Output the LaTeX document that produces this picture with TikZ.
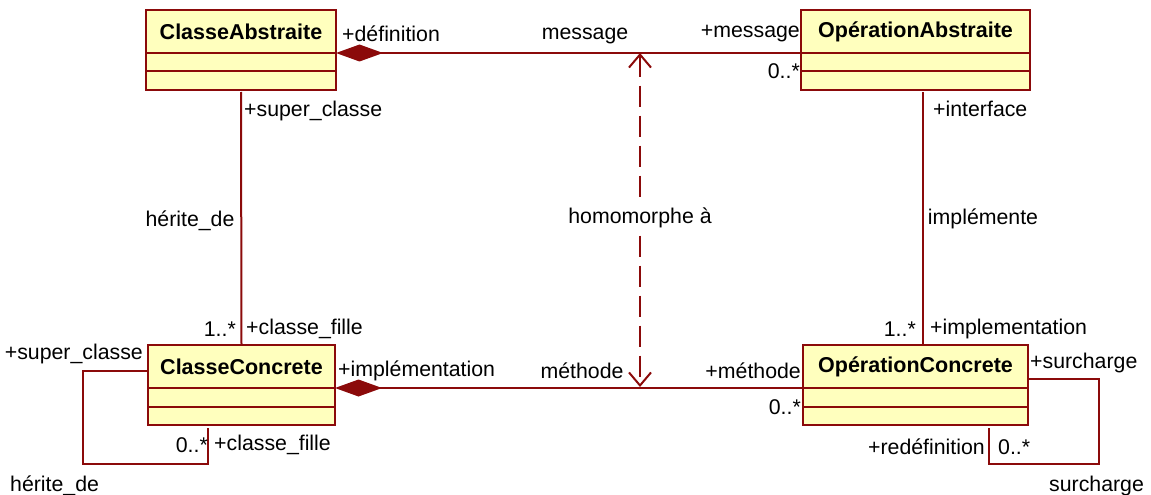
\documentclass[tikz,border=0pt]{standalone}
\usepackage{fontspec}
\setmainfont{Liberation Sans}
\usetikzlibrary{arrows.meta,positioning}
\definecolor{UMLRed}{HTML}{8B0A0A}
\definecolor{UMLFill}{HTML}{FFFFBE}

\begin{document}
\begin{tikzpicture}[x=1pt,y=-1pt,line cap=butt,line join=miter,
    classhead/.style={draw=UMLRed,fill=UMLFill,line width=2pt,minimum height=43pt,
      inner sep=0pt,outer sep=0pt,font=\fontsize{21.5pt}{24pt}\selectfont\bfseries},
    classcomp/.style={draw=UMLRed,fill=UMLFill,line width=2pt,minimum height=18.5pt,
      inner sep=0pt,outer sep=0pt},
    lbl/.style={inner sep=0pt,font=\fontsize{21.3pt}{24pt}\selectfont},
    assoc/.style={UMLRed,line width=2pt}]
  \useasboundingbox (0,0) rectangle (1151,495);
  \node[classhead,minimum width=190pt] (ca) at (241,31.5) {ClasseAbstraite};
  \node[classcomp,minimum width=190pt,below=0pt of ca] (ca1) {};
  \node[classcomp,minimum width=190pt,below=0pt of ca1] (ca2) {};
  \node[classhead,minimum width=229pt] (oa) at (915.5,31.5) {OpérationAbstraite};
  \node[classcomp,minimum width=229pt,below=0pt of oa] (oa1) {};
  \node[classcomp,minimum width=229pt,below=0pt of oa1] (oa2) {};
  \node[classhead,minimum width=187pt] (cc) at (241.5,366.5) {ClasseConcrete};
  \node[classcomp,minimum width=187pt,below=0pt of cc] (cc1) {};
  \node[classcomp,minimum width=187pt,below=0pt of cc1] (cc2) {};
  \node[classhead,minimum width=225pt] (oc) at (915.5,366.5) {OpérationConcrete};
  \node[classcomp,minimum width=225pt,below=0pt of oc] (oc1) {};
  \node[classcomp,minimum width=225pt,below=0pt of oc1] (oc2) {};
  \draw[assoc,{Diamond[length=47pt,width=17pt]}-] (ca.south east) -- (oa.south west);
  \draw[assoc,{Diamond[length=47pt,width=17pt]}-] (cc.south east) -- (oc.south west);
  \draw[assoc] ([yshift=-2pt]ca2.south) -- (cc.north);
  \draw[assoc] ([xshift=7pt,yshift=-2pt]oa2.south) -- ([xshift=7pt]oc.north);
  \coordinate (hm1) at (640,53);
  \coordinate (hm2) at (640,387);
  \draw[assoc,dash pattern=on 21pt off 9pt,{Straight Barb[length=13pt,width=22pt]}-{Straight Barb[length=13pt,width=22pt]}] (hm1) -- (hm2);
  \draw[assoc] ([yshift=-4.5pt]cc.west) -- ++(-65,0) |- ([xshift=-33.5pt,yshift=-39pt]cc2.south)
    -- ([xshift=-33.5pt,yshift=-3pt]cc2.south);
  \draw[assoc] ([yshift=-12.5pt]oc.east) -- ++(71,0) |- ([xshift=73.5pt,yshift=-39pt]oc2.south)
    -- ([xshift=73.5pt,yshift=-3pt]oc2.south);
  \node[lbl,anchor=west] (defin) at (342,34) {+définition};
  \node[lbl] (msg) at (585,36) {message};
  \node[lbl,anchor=east] (msgr) at (800,34) {+message};
  \node[lbl,anchor=east] (multoa) at (800,71) {0..*};
  \node[lbl,anchor=west] (supca) at (244,111) {+super\_classe};
  \node[lbl] (herit) at (190,221) {hérite\_de};
  \node[lbl,fill=white,inner sep=6pt] (homo) at (640,218) {homomorphe à};
  \node[lbl] (implem) at (983,219) {implémente};
  \node[lbl,anchor=west] (interf) at (933,109) {+interface};
  \node[lbl,anchor=east] (multcc) at (236,329) {1..*};
  \node[lbl,anchor=west] (fillecc) at (246,329) {+classe\_fille};
  \node[lbl,anchor=east] (multoc) at (916,329) {1..*};
  \node[lbl,anchor=west] (implemoc) at (930,329) {+implementation};
  \node[lbl,anchor=east] (supcc) at (143,354) {+super\_classe};
  \node[lbl,anchor=west] (implcc) at (338,371) {+implémentation};
  \node[lbl] (meth) at (582,371) {méthode};
  \node[lbl,anchor=east] (methr) at (801,371) {+méthode};
  \node[lbl,anchor=east] (multocb) at (801,407) {0..*};
  \node[lbl,anchor=west] (surch) at (1030,363) {+surcharge};
  \node[lbl,anchor=east] (multccb) at (208,445) {0..*};
  \node[lbl,anchor=west] (fillecb) at (214,445) {+classe\_fille};
  \node[lbl,anchor=west] (heritb) at (10,486) {hérite\_de};
  \node[lbl,anchor=east] (redef) at (985,447) {+redéfinition};
  \node[lbl,anchor=west] (multocr) at (998,447) {0..*};
  \node[lbl,anchor=west] (surchb) at (1049,486) {surcharge};
\end{tikzpicture}
\end{document}
